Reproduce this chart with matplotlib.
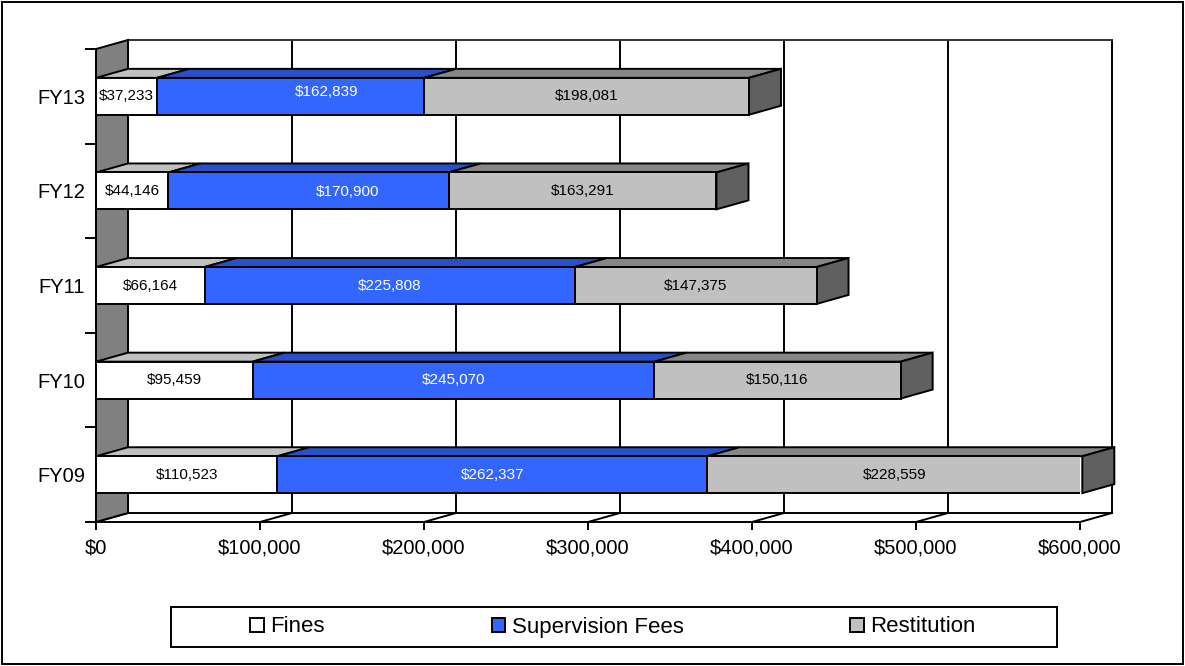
import numpy as np
import matplotlib.pyplot as plt
from matplotlib.patches import Polygon, Rectangle
from matplotlib.ticker import FuncFormatter, MultipleLocator

plt.rcParams['font.family'] = ['Liberation Sans', 'DejaVu Sans']

# datos por año fiscal
years = ['FY09', 'FY10', 'FY11', 'FY12', 'FY13']
fines = [110523, 95459, 66164, 44146, 37233]
supervision = [262337, 245070, 225808, 170900, 162839]
restitution = [228559, 150116, 147375, 163291, 198081]

series = [('Fines', fines, '#FFFFFF', '#C0C0C0', 'black'),
          ('Supervision Fees', supervision, '#3366FF', '#2A50C8', 'white'),
          ('Restitution', restitution, '#C0C0C0', '#868686', 'black')]

# etiquetas que se movieron a mano (serie, año): desplazamiento en puntos
label_nudge = {(1, 3): (28, -1), (1, 4): (26, 3)}

W, H = 1185, 666
fig = plt.figure(figsize=(W / 100, H / 100), dpi=100)
ax = fig.add_axes([96 / W, 1 - 522 / H, 984 / W, 473 / H])
xmax = 600000
ax.set_xlim(0, xmax)
ax.set_ylim(-0.5, len(years) - 0.5)

# profundidad del efecto 3D (en pixeles -> unidades de datos)
DX = 32 * xmax / 984
DY = 9 * len(years) / 473
BH = 0.39
LW = 1.4
ytop = len(years) - 0.5

# pared del fondo con rejilla
ax.add_patch(Polygon([(DX, -0.5 + DY), (xmax + DX, -0.5 + DY), (xmax + DX, ytop + DY), (DX, ytop + DY)],
                     closed=True, facecolor='white', edgecolor='none', zorder=0.5, clip_on=False))
for v in np.arange(0, xmax + 1, 100000):
    ax.plot([v + DX, v + DX], [-0.5 + DY, ytop + DY], color='black', lw=LW, zorder=1, clip_on=False)
    ax.plot([v, v + DX], [-0.5, -0.5 + DY], color='black', lw=LW, zorder=1, clip_on=False)
ax.plot([DX, xmax + DX], [ytop + DY, ytop + DY], color='#333333', lw=LW, zorder=1, clip_on=False)
ax.plot([DX, xmax + DX], [-0.5 + DY, -0.5 + DY], color='black', lw=LW, zorder=1, clip_on=False)

# pared izquierda
ax.add_patch(Polygon([(0, -0.5), (DX, -0.5 + DY), (DX, ytop + DY), (0, ytop)],
                     closed=True, facecolor='#808080', edgecolor='black', lw=LW, zorder=2, clip_on=False))

# barras apiladas
y = np.arange(len(years))
left = np.zeros(len(years))
for k, (name, vals, col, topcol, tcol) in enumerate(series):
    vals = np.array(vals, dtype=float)
    ax.barh(y, vals, left=left, height=BH, color=col, edgecolor='black', linewidth=LW, zorder=4, label=name)
    for i in range(len(years)):
        x0, x1 = left[i], left[i] + vals[i]
        yt = y[i] + BH / 2
        ax.add_patch(Polygon([(x0, yt), (x1, yt), (x1 + DX, yt + DY), (x0 + DX, yt + DY)],
                             closed=True, facecolor=topcol, edgecolor='black', lw=LW, zorder=3.5,
                             clip_on=False))
        ax.annotate(f'${vals[i]:,.0f}', ((x0 + x1) / 2, y[i]), xytext=label_nudge.get((k, i), (0, 0)),
                    textcoords='offset points', ha='center', va='center',
                    fontsize=11, color=tcol, zorder=6)
    left += vals

# cara lateral al final de cada barra
for i in range(len(years)):
    xe = left[i]
    yb, yt = y[i] - BH / 2, y[i] + BH / 2
    ax.add_patch(Polygon([(xe, yb), (xe + DX, yb + DY), (xe + DX, yt + DY), (xe, yt)],
                         closed=True, facecolor='#606060', edgecolor='black', lw=LW, zorder=3.5,
                         clip_on=False))

# ejes
for s in ['top', 'right']:
    ax.spines[s].set_visible(False)
for s in ['left', 'bottom']:
    ax.spines[s].set_linewidth(LW)
    ax.spines[s].set_zorder(5)
ax.set_facecolor('none')
ax.xaxis.set_major_locator(MultipleLocator(100000))
ax.xaxis.set_major_formatter(FuncFormatter(lambda v, p: f'${v:,.0f}'))
ax.tick_params(axis='x', length=6, width=LW, labelsize=14.5, pad=6)
ax.set_yticks(y)
ax.set_yticklabels(years)
ax.set_yticks(np.arange(-0.5, len(years)), minor=True)
ax.tick_params(axis='y', which='major', length=0, labelsize=14.5, pad=8)
ax.tick_params(axis='y', which='minor', length=8, width=LW)

# leyenda con marco propio
fig.add_artist(Rectangle((171 / W, 1 - 647 / H), 886 / W, 40 / H, transform=fig.transFigure,
                         facecolor='white', edgecolor='black', lw=LW))
handles, labels = ax.get_legend_handles_labels()
fig.legend(handles, labels, loc='center', bbox_to_anchor=(613 / W, 1 - 627 / H), ncol=3,
           frameon=False, fontsize=16, handlelength=0.6, handleheight=0.6,
           handletextpad=0.3, columnspacing=7.5)

# marco exterior
fig.add_artist(Rectangle((2 / W, 2 / H), 1 - 4 / W, 1 - 4 / H, transform=fig.transFigure,
                         facecolor='none', edgecolor='black', lw=LW))

fig.savefig('out.png', dpi=100)
